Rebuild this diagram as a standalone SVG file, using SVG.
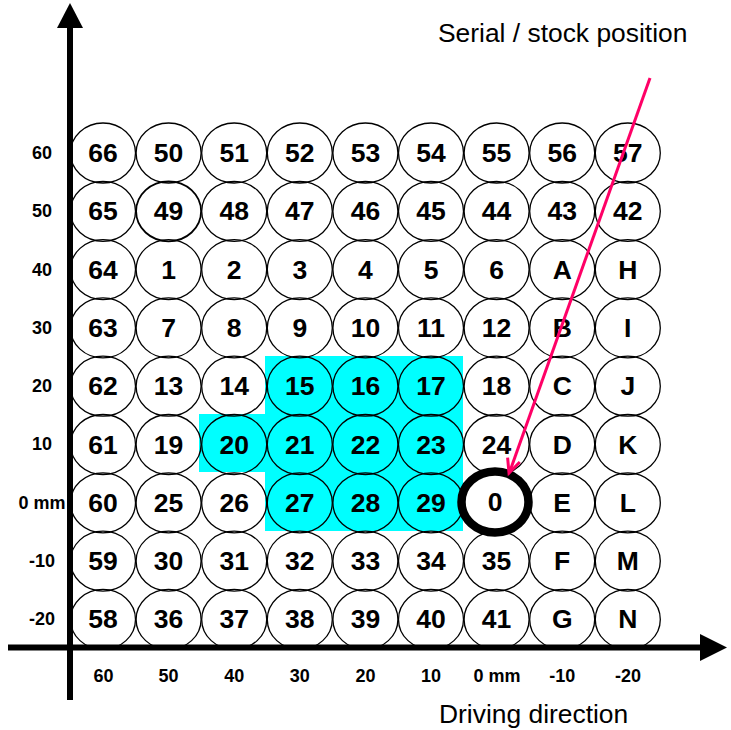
<svg xmlns="http://www.w3.org/2000/svg" width="731" height="730" viewBox="0 0 731 730">
<style>
.c{fill:none;stroke:#000;stroke-width:1.3}
.n{font-family:"Liberation Sans",Arial,sans-serif;font-weight:bold;font-size:26.5px;text-anchor:middle;fill:#000}
.a{font-family:"Liberation Sans",Arial,sans-serif;font-weight:bold;font-size:18px;text-anchor:middle;fill:#000}
.t{font-family:"Liberation Sans",Arial,sans-serif;font-size:26.4px;fill:#000}
</style>
<rect width="731" height="730" fill="#fff"/>
<polygon id="highlight" points="265,356 463,356 463,531 265,531 265,472 199,472 199,414 265,414" fill="#00FFFF"/>
<g id="nodes">
<g id="r0">
<g id="n66"><ellipse class="c" cx="103" cy="153" rx="32.5" ry="30"/><text class="n" x="103" y="162">66</text></g>
<g id="n50"><ellipse class="c" cx="168.6" cy="153" rx="32.5" ry="30"/><text class="n" x="168.6" y="162">50</text></g>
<g id="n51"><ellipse class="c" cx="234.2" cy="153" rx="32.5" ry="30"/><text class="n" x="234.2" y="162">51</text></g>
<g id="n52"><ellipse class="c" cx="299.8" cy="153" rx="32.5" ry="30"/><text class="n" x="299.8" y="162">52</text></g>
<g id="n53"><ellipse class="c" cx="365.4" cy="153" rx="32.5" ry="30"/><text class="n" x="365.4" y="162">53</text></g>
<g id="n54"><ellipse class="c" cx="431" cy="153" rx="32.5" ry="30"/><text class="n" x="431" y="162">54</text></g>
<g id="n55"><ellipse class="c" cx="496.6" cy="153" rx="32.5" ry="30"/><text class="n" x="496.6" y="162">55</text></g>
<g id="n56"><ellipse class="c" cx="562.2" cy="153" rx="32.5" ry="30"/><text class="n" x="562.2" y="162">56</text></g>
<g id="n57"><ellipse class="c" cx="627.8" cy="153" rx="32.5" ry="30"/><text class="n" x="627.8" y="162">57</text></g>
</g>
<g id="r1">
<g id="n65"><ellipse class="c" cx="103" cy="211.3" rx="32.5" ry="30"/><text class="n" x="103" y="220.3">65</text></g>
<g id="n49"><ellipse class="c" cx="168.6" cy="211.3" rx="32.5" ry="30" style="stroke-width:1.8"/><text class="n" x="168.6" y="220.3">49</text></g>
<g id="n48"><ellipse class="c" cx="234.2" cy="211.3" rx="32.5" ry="30"/><text class="n" x="234.2" y="220.3">48</text></g>
<g id="n47"><ellipse class="c" cx="299.8" cy="211.3" rx="32.5" ry="30"/><text class="n" x="299.8" y="220.3">47</text></g>
<g id="n46"><ellipse class="c" cx="365.4" cy="211.3" rx="32.5" ry="30"/><text class="n" x="365.4" y="220.3">46</text></g>
<g id="n45"><ellipse class="c" cx="431" cy="211.3" rx="32.5" ry="30"/><text class="n" x="431" y="220.3">45</text></g>
<g id="n44"><ellipse class="c" cx="496.6" cy="211.3" rx="32.5" ry="30"/><text class="n" x="496.6" y="220.3">44</text></g>
<g id="n43"><ellipse class="c" cx="562.2" cy="211.3" rx="32.5" ry="30"/><text class="n" x="562.2" y="220.3">43</text></g>
<g id="n42"><ellipse class="c" cx="627.8" cy="211.3" rx="32.5" ry="30"/><text class="n" x="627.8" y="220.3">42</text></g>
</g>
<g id="r2">
<g id="n64"><ellipse class="c" cx="103" cy="269.6" rx="32.5" ry="30"/><text class="n" x="103" y="278.6">64</text></g>
<g id="n1"><ellipse class="c" cx="168.6" cy="269.6" rx="32.5" ry="30"/><text class="n" x="168.6" y="278.6">1</text></g>
<g id="n2"><ellipse class="c" cx="234.2" cy="269.6" rx="32.5" ry="30"/><text class="n" x="234.2" y="278.6">2</text></g>
<g id="n3"><ellipse class="c" cx="299.8" cy="269.6" rx="32.5" ry="30"/><text class="n" x="299.8" y="278.6">3</text></g>
<g id="n4"><ellipse class="c" cx="365.4" cy="269.6" rx="32.5" ry="30"/><text class="n" x="365.4" y="278.6">4</text></g>
<g id="n5"><ellipse class="c" cx="431" cy="269.6" rx="32.5" ry="30"/><text class="n" x="431" y="278.6">5</text></g>
<g id="n6"><ellipse class="c" cx="496.6" cy="269.6" rx="32.5" ry="30"/><text class="n" x="496.6" y="278.6">6</text></g>
<g id="nA"><ellipse class="c" cx="562.2" cy="269.6" rx="32.5" ry="30"/><text class="n" x="562.2" y="278.6">A</text></g>
<g id="nH"><ellipse class="c" cx="627.8" cy="269.6" rx="32.5" ry="30"/><text class="n" x="627.8" y="278.6">H</text></g>
</g>
<g id="r3">
<g id="n63"><ellipse class="c" cx="103" cy="327.9" rx="32.5" ry="30"/><text class="n" x="103" y="336.9">63</text></g>
<g id="n7"><ellipse class="c" cx="168.6" cy="327.9" rx="32.5" ry="30"/><text class="n" x="168.6" y="336.9">7</text></g>
<g id="n8"><ellipse class="c" cx="234.2" cy="327.9" rx="32.5" ry="30"/><text class="n" x="234.2" y="336.9">8</text></g>
<g id="n9"><ellipse class="c" cx="299.8" cy="327.9" rx="32.5" ry="30"/><text class="n" x="299.8" y="336.9">9</text></g>
<g id="n10"><ellipse class="c" cx="365.4" cy="327.9" rx="32.5" ry="30"/><text class="n" x="365.4" y="336.9">10</text></g>
<g id="n11"><ellipse class="c" cx="431" cy="327.9" rx="32.5" ry="30"/><text class="n" x="431" y="336.9">11</text></g>
<g id="n12"><ellipse class="c" cx="496.6" cy="327.9" rx="32.5" ry="30"/><text class="n" x="496.6" y="336.9">12</text></g>
<g id="nB"><ellipse class="c" cx="562.2" cy="327.9" rx="32.5" ry="30"/><text class="n" x="562.2" y="336.9">B</text></g>
<g id="nI"><ellipse class="c" cx="627.8" cy="327.9" rx="32.5" ry="30"/><text class="n" x="627.8" y="336.9">I</text></g>
</g>
<g id="r4">
<g id="n62"><ellipse class="c" cx="103" cy="386.2" rx="32.5" ry="30"/><text class="n" x="103" y="395.2">62</text></g>
<g id="n13"><ellipse class="c" cx="168.6" cy="386.2" rx="32.5" ry="30"/><text class="n" x="168.6" y="395.2">13</text></g>
<g id="n14"><ellipse class="c" cx="234.2" cy="386.2" rx="32.5" ry="30"/><text class="n" x="234.2" y="395.2">14</text></g>
<g id="n15"><ellipse class="c" cx="299.8" cy="386.2" rx="32.5" ry="30"/><text class="n" x="299.8" y="395.2">15</text></g>
<g id="n16"><ellipse class="c" cx="365.4" cy="386.2" rx="32.5" ry="30"/><text class="n" x="365.4" y="395.2">16</text></g>
<g id="n17"><ellipse class="c" cx="431" cy="386.2" rx="32.5" ry="30"/><text class="n" x="431" y="395.2">17</text></g>
<g id="n18"><ellipse class="c" cx="496.6" cy="386.2" rx="32.5" ry="30"/><text class="n" x="496.6" y="395.2">18</text></g>
<g id="nC"><ellipse class="c" cx="562.2" cy="386.2" rx="32.5" ry="30"/><text class="n" x="562.2" y="395.2">C</text></g>
<g id="nJ"><ellipse class="c" cx="627.8" cy="386.2" rx="32.5" ry="30"/><text class="n" x="627.8" y="395.2">J</text></g>
</g>
<g id="r5">
<g id="n61"><ellipse class="c" cx="103" cy="444.5" rx="32.5" ry="30"/><text class="n" x="103" y="453.5">61</text></g>
<g id="n19"><ellipse class="c" cx="168.6" cy="444.5" rx="32.5" ry="30"/><text class="n" x="168.6" y="453.5">19</text></g>
<g id="n20"><ellipse class="c" cx="234.2" cy="444.5" rx="32.5" ry="30"/><text class="n" x="234.2" y="453.5">20</text></g>
<g id="n21"><ellipse class="c" cx="299.8" cy="444.5" rx="32.5" ry="30"/><text class="n" x="299.8" y="453.5">21</text></g>
<g id="n22"><ellipse class="c" cx="365.4" cy="444.5" rx="32.5" ry="30"/><text class="n" x="365.4" y="453.5">22</text></g>
<g id="n23"><ellipse class="c" cx="431" cy="444.5" rx="32.5" ry="30"/><text class="n" x="431" y="453.5">23</text></g>
<g id="n24"><ellipse class="c" cx="496.6" cy="444.5" rx="32.5" ry="30"/><text class="n" x="496.6" y="453.5">24</text></g>
<g id="nD"><ellipse class="c" cx="562.2" cy="444.5" rx="32.5" ry="30"/><text class="n" x="562.2" y="453.5">D</text></g>
<g id="nK"><ellipse class="c" cx="627.8" cy="444.5" rx="32.5" ry="30"/><text class="n" x="627.8" y="453.5">K</text></g>
</g>
<g id="r6">
<g id="n60"><ellipse class="c" cx="103" cy="502.8" rx="32.5" ry="30"/><text class="n" x="103" y="511.8">60</text></g>
<g id="n25"><ellipse class="c" cx="168.6" cy="502.8" rx="32.5" ry="30"/><text class="n" x="168.6" y="511.8">25</text></g>
<g id="n26"><ellipse class="c" cx="234.2" cy="502.8" rx="32.5" ry="30"/><text class="n" x="234.2" y="511.8">26</text></g>
<g id="n27"><ellipse class="c" cx="299.8" cy="502.8" rx="32.5" ry="30"/><text class="n" x="299.8" y="511.8">27</text></g>
<g id="n28"><ellipse class="c" cx="365.4" cy="502.8" rx="32.5" ry="30"/><text class="n" x="365.4" y="511.8">28</text></g>
<g id="n29"><ellipse class="c" cx="431" cy="502.8" rx="32.5" ry="30"/><text class="n" x="431" y="511.8">29</text></g>
<g id="nE"><ellipse class="c" cx="562.2" cy="502.8" rx="32.5" ry="30"/><text class="n" x="562.2" y="511.8">E</text></g>
<g id="nL"><ellipse class="c" cx="627.8" cy="502.8" rx="32.5" ry="30"/><text class="n" x="627.8" y="511.8">L</text></g>
</g>
<g id="r7">
<g id="n59"><ellipse class="c" cx="103" cy="561.1" rx="32.5" ry="30"/><text class="n" x="103" y="570.1">59</text></g>
<g id="n30"><ellipse class="c" cx="168.6" cy="561.1" rx="32.5" ry="30"/><text class="n" x="168.6" y="570.1">30</text></g>
<g id="n31"><ellipse class="c" cx="234.2" cy="561.1" rx="32.5" ry="30"/><text class="n" x="234.2" y="570.1">31</text></g>
<g id="n32"><ellipse class="c" cx="299.8" cy="561.1" rx="32.5" ry="30"/><text class="n" x="299.8" y="570.1">32</text></g>
<g id="n33"><ellipse class="c" cx="365.4" cy="561.1" rx="32.5" ry="30"/><text class="n" x="365.4" y="570.1">33</text></g>
<g id="n34"><ellipse class="c" cx="431" cy="561.1" rx="32.5" ry="30"/><text class="n" x="431" y="570.1">34</text></g>
<g id="n35"><ellipse class="c" cx="496.6" cy="561.1" rx="32.5" ry="30"/><text class="n" x="496.6" y="570.1">35</text></g>
<g id="nF"><ellipse class="c" cx="562.2" cy="561.1" rx="32.5" ry="30"/><text class="n" x="562.2" y="570.1">F</text></g>
<g id="nM"><ellipse class="c" cx="627.8" cy="561.1" rx="32.5" ry="30"/><text class="n" x="627.8" y="570.1">M</text></g>
</g>
<g id="r8">
<g id="n58"><ellipse class="c" cx="103" cy="619.4" rx="32.5" ry="30"/><text class="n" x="103" y="628.4">58</text></g>
<g id="n36"><ellipse class="c" cx="168.6" cy="619.4" rx="32.5" ry="30"/><text class="n" x="168.6" y="628.4">36</text></g>
<g id="n37"><ellipse class="c" cx="234.2" cy="619.4" rx="32.5" ry="30"/><text class="n" x="234.2" y="628.4">37</text></g>
<g id="n38"><ellipse class="c" cx="299.8" cy="619.4" rx="32.5" ry="30"/><text class="n" x="299.8" y="628.4">38</text></g>
<g id="n39"><ellipse class="c" cx="365.4" cy="619.4" rx="32.5" ry="30"/><text class="n" x="365.4" y="628.4">39</text></g>
<g id="n40"><ellipse class="c" cx="431" cy="619.4" rx="32.5" ry="30"/><text class="n" x="431" y="628.4">40</text></g>
<g id="n41"><ellipse class="c" cx="496.6" cy="619.4" rx="32.5" ry="30"/><text class="n" x="496.6" y="628.4">41</text></g>
<g id="nG"><ellipse class="c" cx="562.2" cy="619.4" rx="32.5" ry="30"/><text class="n" x="562.2" y="628.4">G</text></g>
<g id="nN"><ellipse class="c" cx="627.8" cy="619.4" rx="32.5" ry="30"/><text class="n" x="627.8" y="628.4">N</text></g>
</g>
<g id="n0"><ellipse cx="495" cy="502" rx="33.5" ry="30.5" fill="#fff" stroke="#000" stroke-width="8.5"/><text class="n" x="495" y="511">0</text></g>
</g>
<g id="axes">
<line x1="70" y1="26" x2="70" y2="700" stroke="#000" stroke-width="6"/>
<polygon points="70,3 57,28 83,28" fill="#000"/>
<line x1="8" y1="647.5" x2="702" y2="647.5" stroke="#000" stroke-width="6"/>
<polygon points="727,647.5 700,634 700,661" fill="#000"/>
</g>
<g id="labels">
<text class="a" x="42" y="159">60</text>
<text class="a" x="42" y="217">50</text>
<text class="a" x="42" y="276">40</text>
<text class="a" x="42" y="334">30</text>
<text class="a" x="42" y="392">20</text>
<text class="a" x="42" y="450">10</text>
<text class="a" x="42" y="509">0 mm</text>
<text class="a" x="42" y="567">-10</text>
<text class="a" x="42" y="625">-20</text>
<text class="a" x="103.5" y="682">60</text>
<text class="a" x="168.6" y="682">50</text>
<text class="a" x="234.2" y="682">40</text>
<text class="a" x="299.8" y="682">30</text>
<text class="a" x="365.4" y="682">20</text>
<text class="a" x="431" y="682">10</text>
<text class="a" x="497" y="682">0 mm</text>
<text class="a" x="562.2" y="682">-10</text>
<text class="a" x="628" y="682">-20</text>
<text class="t" x="438" y="42">Serial / stock position</text>
<text class="t" x="439" y="723">Driving direction</text>
</g>
<g id="connectors">
<line x1="650" y1="78" x2="510" y2="471" stroke="#FF0066" stroke-width="3"/>
<polyline points="519.8,462 509,473 507.6,457.6" fill="none" stroke="#FF0066" stroke-width="3"/>
</g>
</svg>
